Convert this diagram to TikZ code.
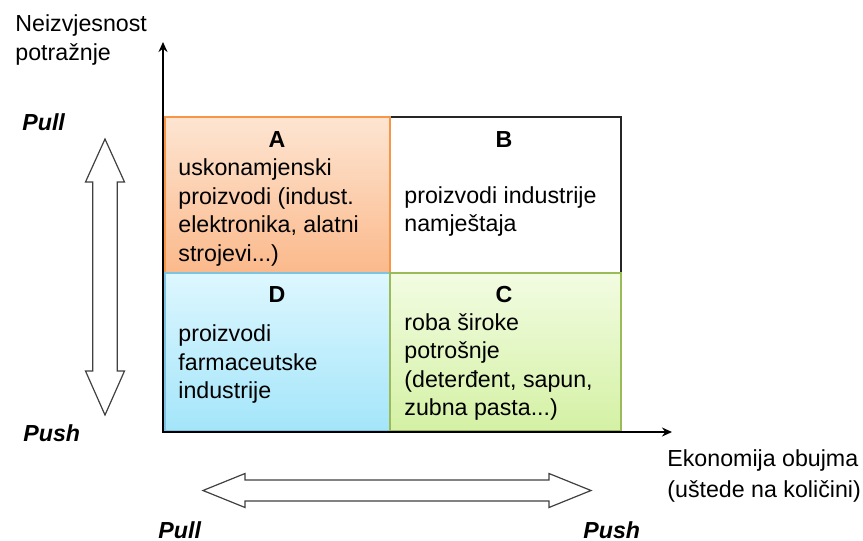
\documentclass[tikz,border=0pt]{standalone}
\usepackage{fontspec}
\setmainfont{Liberation Sans}
\usetikzlibrary{arrows.meta}
\definecolor{aTop}{HTML}{FDE5D2}
\definecolor{aBot}{HTML}{FBB98B}
\definecolor{aLine}{HTML}{F79646}
\definecolor{dTop}{HTML}{DDF7FE}
\definecolor{dBot}{HTML}{A4E5FA}
\definecolor{dLine}{HTML}{7DC3E2}
\definecolor{cTop}{HTML}{F2FCE2}
\definecolor{cBot}{HTML}{D4F1A4}
\definecolor{cLine}{HTML}{9BBB59}
\definecolor{arrGray}{HTML}{404040}
\tikzset{
  txt/.style={font=\fontsize{11.6pt}{14.2pt}\selectfont, inner sep=0pt},
  body/.style={txt, align=left, anchor=base west},
  letter/.style={txt, font=\fontsize{11.6pt}{14.2pt}\selectfont\bfseries, anchor=base},
  pp/.style={txt, font=\fontsize{11.6pt}{14.2pt}\selectfont\bfseries\itshape, anchor=base west},
  axis/.style={line width=1pt, line cap=rect, -{Stealth[length=5pt,width=4.5pt]}},
  fat/.style={draw=arrGray, line width=0.6pt, fill=white}
}
\begin{document}
\begin{tikzpicture}[x=0.5pt,y=-0.5pt]
\useasboundingbox (0,0) rectangle (863,541);
\draw[draw=black!85, line width=0.7pt] (390,117) rectangle (621,273);
\draw[draw=aLine, line width=0.6pt, top color=aTop, bottom color=aBot] (165,117) rectangle (390,273);
\draw[draw=dLine, line width=0.6pt, top color=dTop, bottom color=dBot] (165,273) rectangle (390,431);
\draw[draw=cLine, line width=0.8pt, top color=cTop, bottom color=cBot] (390,273) rectangle (621,431);

\coordinate (o) at (163,432);
\coordinate (ytip) at (163,42);
\coordinate (xtip) at (672,432);
\draw[axis] (o) -- (ytip);
\draw[axis] (o) -- (xtip);

\node[body] (yname) at (15,60) {Neizvjesnost\\potražnje};
\node[body] (xname) at (667,497) {Ekonomija obujma\\[1.3pt](uštede na količini)};

\node[pp] (pullY) at (22,130) {Pull};
\node[pp] (pushY) at (23,441) {Push};
\node[pp] (pullX) at (158,538) {Pull};
\node[pp] (pushX) at (583,538) {Push};

\node[letter] (la) at (277,147) {A};
\node[letter] (lb) at (504,147) {B};
\node[letter] (ld) at (277,302) {D};
\node[letter] (lc) at (504,302) {C};

\node[body] (ta) at (178,261) {uskonamjenski\\proizvodi (indust.\\elektronika, alatni\\strojevi...)};
\node[body] (tb) at (404,231.5) {proizvodi industrije\\namještaja};
\node[body] (td) at (178,398.5) {proizvodi\\farmaceutske\\industrije};
\node[body] (tc) at (404,415.5) {roba široke\\potrošnje\\(deterđent, sapun,\\zubna pasta...)};

\draw[fat] (105,139) -- (124.5,182) -- (117.3,182) -- (117.3,371) -- (124.5,371) -- (105,415)
  -- (85.5,371) -- (92.7,371) -- (92.7,182) -- (85.5,182) -- cycle;
\draw[fat] (203,490.5) -- (245,473.5) -- (245,480) -- (549,480) -- (549,473.5) -- (591,490.5)
  -- (549,507.5) -- (549,501) -- (245,501) -- (245,507.5) -- cycle;
\end{tikzpicture}
\end{document}
